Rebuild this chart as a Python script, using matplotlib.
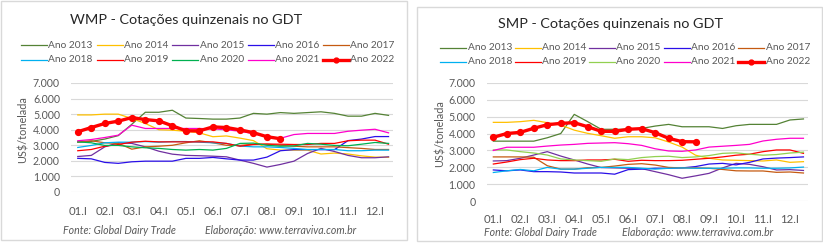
import matplotlib
matplotlib.use("Agg")
import matplotlib.pyplot as plt
from matplotlib.patches import Rectangle
from matplotlib.lines import Line2D
from matplotlib.ticker import FuncFormatter

plt.rcParams['font.family'] = ['Lato', 'DejaVu Sans']

# ---------------- data ----------------
months = ["01", "02", "03", "04", "05", "06", "07", "08", "09", "10", "11", "12"]
categories = [m + q for m in months for q in (".I", ".II")]
tick_labels = [c if c.endswith(".I") else "" for c in categories]

years = ["Ano 2013", "Ano 2014", "Ano 2015", "Ano 2016", "Ano 2017",
         "Ano 2018", "Ano 2019", "Ano 2020", "Ano 2021", "Ano 2022"]

wmp_2013 = [3200, 3250, 3400, 3620, 4350, 5120, 5120, 5250, 4750, 4720, 4680, 4680,
            4750, 5050, 5000, 5100, 5050, 5100, 5150, 5050, 4870, 4870, 5050, 4920]
wmp_2014 = [4950, 4950, 5000, 5000, 4720, 4400, 4000, 3970, 3900, 3800, 3550, 3600,
            3460, 3300, 2780, 2690, 2690, 2690, 2440, 2500, 2440, 2320, 2240, 2230]
wmp_2015 = [2280, 2350, 2900, 3160, 3120, 2900, 2620, 2430, 2350, 2330, 2300, 2260,
            2050, 1840, 1600, 1770, 1980, 2470, 2800, 2600, 2350, 2200, 2200, 2260]
wmp_2016 = [2160, 2130, 1900, 1840, 1940, 1980, 1980, 1980, 2160, 2160, 2220, 2130,
            2050, 2050, 2240, 2650, 2720, 2720, 2720, 2720, 3300, 3400, 3560, 3560]
wmp_2017 = [3220, 3290, 3160, 3120, 2750, 2900, 2940, 3000, 3160, 3290, 3160, 3000,
            2990, 3070, 3070, 3000, 2940, 2900, 2900, 2900, 2850, 2800, 2730, 2730]
wmp_2018 = [2860, 2990, 3160, 3200, 3200, 3240, 3200, 3240, 3240, 3200, 3160, 3120,
            2950, 2900, 2900, 2860, 2800, 2730, 2730, 2730, 2650, 2650, 2690, 2690]
wmp_2019 = [2650, 2730, 2940, 3050, 3200, 3260, 3220, 3220, 3220, 3220, 3220, 3120,
            2940, 3050, 3080, 3070, 3050, 3050, 3120, 3120, 3290, 3330, 3330, 3070]
wmp_2020 = [3220, 3160, 2990, 2990, 2900, 2840, 2800, 2730, 2690, 2730, 2690, 2800,
            3120, 3140, 3000, 2940, 2960, 3120, 3070, 2990, 2970, 3070, 3180, 3120]
wmp_2021 = [3290, 3370, 3500, 3650, 4290, 4080, 4080, 4080, 4080, 4080, 4050, 4000,
            3900, 3750, 3550, 3450, 3690, 3760, 3760, 3760, 3900, 3970, 4030, 3800]
wmp_2022 = [3870, 4140, 4400, 4550, 4780, 4650, 4570, 4250, 3930, 3930, 4180, 4140,
            3990, 3810, 3550, 3420]

smp_2013 = [3550, 3550, 3550, 3550, 3750, 4000, 5130, 4700, 4250, 4250, 4250, 4300,
            4440, 4540, 4400, 4400, 4400, 4300, 4460, 4540, 4540, 4540, 4800, 4860]
smp_2014 = [4660, 4660, 4700, 4780, 4640, 4500, 4200, 4010, 3870, 3720, 3810, 3810,
            3750, 3500, 3200, 2720, 2540, 2440, 2420, 2400, 2380, 2440, 2300, 2340]
smp_2015 = [2380, 2400, 2540, 2730, 2930, 2670, 2440, 2200, 1990, 1970, 1950, 1930,
            1750, 1570, 1360, 1500, 1650, 1970, 2240, 2180, 2040, 1850, 1870, 1820]
smp_2016 = [1850, 1800, 1850, 1750, 1750, 1730, 1670, 1670, 1670, 1600, 1870, 1900,
            1950, 1950, 1970, 2050, 2200, 2240, 2150, 2300, 2500, 2550, 2580, 2620]
smp_2017 = [2620, 2620, 2620, 2600, 2100, 1900, 1900, 1980, 2000, 2080, 2180, 2220,
            2140, 2000, 1970, 1970, 1950, 1880, 1800, 1790, 1790, 1710, 1730, 1670]
smp_2018 = [1700, 1800, 1880, 1800, 2000, 1900, 1900, 1950, 2000, 2000, 2000, 1950,
            1900, 1950, 1970, 1950, 1950, 1950, 1970, 1970, 1950, 1950, 1970, 2020]
smp_2019 = [2200, 2320, 2460, 2540, 2440, 2400, 2400, 2440, 2440, 2480, 2360, 2420,
            2400, 2400, 2420, 2480, 2540, 2620, 2720, 2780, 2930, 3030, 3030, 2830]
smp_2020 = [3030, 3030, 2930, 2850, 2730, 2500, 2440, 2400, 2360, 2500, 2460, 2580,
            2640, 2660, 2580, 2620, 2700, 2830, 2860, 2780, 2720, 2760, 2850, 2900]
smp_2021 = [3000, 3190, 3190, 3190, 3260, 3320, 3360, 3420, 3440, 3460, 3400, 3300,
            3100, 2970, 2950, 3030, 3200, 3250, 3300, 3360, 3560, 3660, 3720, 3720]
smp_2022 = [3780, 4000, 4070, 4310, 4520, 4600, 4640, 4400, 4130, 4130, 4250, 4290,
            4050, 3720, 3520, 3510]

wmp_series = [wmp_2013, wmp_2014, wmp_2015, wmp_2016, wmp_2017,
              wmp_2018, wmp_2019, wmp_2020, wmp_2021, wmp_2022]
smp_series = [smp_2013, smp_2014, smp_2015, smp_2016, smp_2017,
              smp_2018, smp_2019, smp_2020, smp_2021, smp_2022]

colors_wmp = ["#548235", "#FFC000", "#7030A0", "#2A0FE8", "#C55A11",
              "#00B0F0", "#FF0000", "#00B050", "#FF00CC", "#FF0000"]
colors_smp = ["#548235", "#FFC000", "#7030A0", "#2A0FE8", "#C55A11",
              "#00B0F0", "#FF0000", "#92D050", "#FF00CC", "#FF0000"]

# ---------------- figure ----------------
W, H = 823, 243
fig = plt.figure(figsize=(W / 100, H / 100), dpi=100)
fig.patch.set_facecolor("white")

def px_rect(x0, y0, x1, y1):
    return [x0 / W, 1 - y1 / H, (x1 - x0) / W, (y1 - y0) / H]

def fx(x):
    return x / W

def fy(y):
    return 1 - y / H

grey = "#595959"

def thousands(v, pos):
    v = int(round(v))
    return f"{v:,}".replace(",", ".")

def draw_panel(frame, axrect, series, colors, title, title_xy, leg_x0, leg_dx, leg_ys,
               ylab_x, foot_y, foot1_x, foot2_x, xt_pad):
    x0f, y0f, x1f, y1f = frame
    fig.patches.append(Rectangle((fx(x0f), fy(y1f)), (x1f - x0f) / W, (y1f - y0f) / H,
                                 transform=fig.transFigure, fill=False,
                                 edgecolor="#D9D9D9", linewidth=1.0))
    ax = fig.add_axes(px_rect(*axrect))
    x = list(range(len(categories)))
    for name, vals, c in zip(years, series, colors):
        if name == "Ano 2022":
            ax.plot(x[:len(vals)], vals, color=c, lw=2.4, marker="o", ms=4.2,
                    label=name, zorder=5, solid_capstyle="round")
        else:
            ax.plot(x[:len(vals)], vals, color=c, lw=0.9, label=name, zorder=3)
    ax.set_xlim(-0.5, 23.3)
    ax.set_ylim(0, 7000)
    ax.set_yticks(range(0, 7001, 1000))
    ax.yaxis.set_major_formatter(FuncFormatter(thousands))
    ax.set_xticks(x)
    ax.set_xticklabels(tick_labels)
    ax.tick_params(axis="x", length=0, labelsize=8.2, colors=grey, pad=xt_pad)
    ax.tick_params(axis="y", length=0, labelsize=7.6, colors=grey, pad=8)
    ax.grid(axis="y", color="#D9D9D9", lw=0.8)
    ax.set_axisbelow(True)
    for s in ax.spines.values():
        s.set_visible(False)
    fig.text(fx(title_xy[0]), fy(title_xy[1]), title, ha="center", va="center",
             fontsize=10.4, color="#262626")
    fig.text(fx(ylab_x), fy((axrect[1] + axrect[3]) / 2 - 8), "US$/tonelada",
             rotation=90, ha="center", va="center", fontsize=7.8, color=grey)
    # legend, row-major, 5 columns
    for i, (name, c) in enumerate(zip(years, colors)):
        r, k = divmod(i, 5)
        lx = leg_x0 + k * leg_dx
        ly = leg_ys[r]
        if name == "Ano 2022":
            fig.add_artist(Line2D([fx(lx), fx(lx + 26)], [fy(ly), fy(ly)],
                                  transform=fig.transFigure, color=c, lw=2.4))
            fig.add_artist(Line2D([fx(lx + 13)], [fy(ly)], transform=fig.transFigure,
                                  color=c, marker="o", ms=3.5, lw=0))
        else:
            fig.add_artist(Line2D([fx(lx), fx(lx + 26)], [fy(ly), fy(ly)],
                                  transform=fig.transFigure, color=c, lw=0.9))
        fig.text(fx(lx + 27.5), fy(ly), name, ha="left", va="center",
                 fontsize=7.3, color=grey)
    fig.text(fx(foot1_x), fy(foot_y), "Fonte: Global Dairy Trade", ha="left",
             va="center", fontsize=7.6, style="italic", color=grey)
    fig.text(fx(foot2_x), fy(foot_y), "Elaboração: www.terraviva.com.br", ha="left",
             va="center", fontsize=7.6, style="italic", color=grey)
    return ax

draw_panel((1, 1, 407, 240), (71, 83, 392.6, 192), wmp_series, colors_wmp,
           "WMP - Cotações quinzenais no GDT", (186, 20), 21, 75.5, (45, 60), 23,
           230, 63, 205, 10)
draw_panel((417, 7, 822, 241), (486.6, 82.7, 807.5, 201.3), smp_series, colors_smp,
           "SMP - Cotações quinzenais no GDT", (611, 24), 440, 74.5, (48, 62), 440,
           232, 484, 622, 9)

fig.savefig("out.png", dpi=100, facecolor="white")
